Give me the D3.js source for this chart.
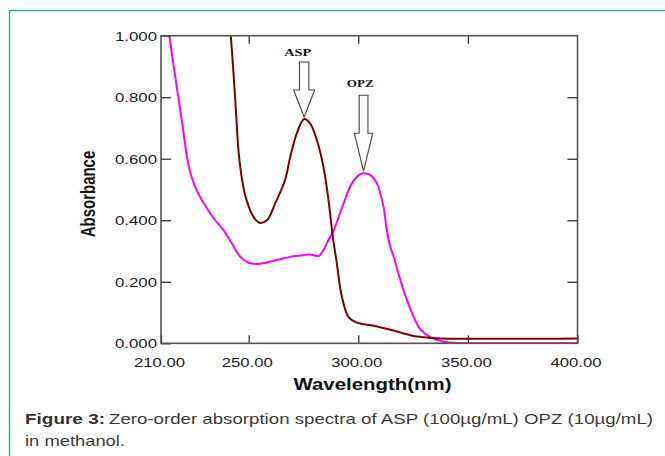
<!DOCTYPE html>
<html>
<head>
<meta charset="utf-8">
<script src="https://cdn.jsdelivr.net/npm/d3@7/dist/d3.min.js"></script>
<style>
  body { margin: 0; background: #fff; }
  text { font-family: "Liberation Sans", Arial, sans-serif; }
</style>
</head>
<body>
<div id="chart"></div>
<script>
// OPZ spectrum (magenta)
const opzWl  = [211, 213.8, 215.8, 217.9, 220, 222, 224.2, 227.5, 232.4, 234.7, 238.5, 242.3, 246.1, 249.9, 253.7, 256.7, 261.3, 265.9, 268.9, 275, 278, 281.9, 284.1, 286.4, 288.5, 293.3, 297.1, 300.9, 302.4, 305.5, 308.5, 311.5, 313, 314.6, 316.1, 319.2, 322.2, 325, 328.3, 332.9, 338.9, 345, 360, 400];
const opzAbs = [1.14, 1.0, 0.9, 0.8, 0.7, 0.6, 0.535, 0.48, 0.423, 0.4, 0.368, 0.325, 0.282, 0.262, 0.258, 0.26, 0.268, 0.276, 0.281, 0.286, 0.289, 0.284, 0.303, 0.336, 0.362, 0.455, 0.52, 0.55, 0.553, 0.547, 0.52, 0.444, 0.368, 0.314, 0.282, 0.206, 0.141, 0.09, 0.045, 0.02, 0.005, 0.001, 0, 0];

// ASP spectrum (maroon)
const aspWl  = [240.5, 241.8, 243.8, 245.3, 246.6, 248.1, 250.1, 252.3, 254.9, 258.3, 262.1, 266.6, 268.9, 272, 275.3, 278, 281.1, 284.1, 286.4, 288.5, 290.2, 292.5, 295.5, 299.4, 307, 314.6, 320.7, 325.2, 328.3, 337.4, 400];
const aspAbs = [1.08, 1.0, 0.8, 0.63, 0.55, 0.49, 0.443, 0.41, 0.392, 0.4, 0.455, 0.531, 0.604, 0.683, 0.729, 0.715, 0.661, 0.574, 0.466, 0.34, 0.26, 0.152, 0.086, 0.067, 0.057, 0.044, 0.032, 0.024, 0.021, 0.016, 0.016];

// peak annotations
const peakLabels = ["ASP", "OPZ"];
const peakWl     = [275.3, 302.4];
const peakAbs    = [0.729, 0.553];

const xTicks = [210, 250, 300, 350, 400];
const yTicks = [0, 0.2, 0.4, 0.6, 0.8, 1.0];

const W = 665, H = 456;
const pLeft = 161, pRight = 577.5, pTop = 35.7, pBottom = 343.3;

const svg = d3.select("#chart").append("svg")
  .attr("width", W).attr("height", H);

// teal frame around the figure
svg.append("rect")
  .attr("x", 9.5).attr("y", 10.5)
  .attr("width", 700).attr("height", 500)
  .attr("fill", "none").attr("stroke", "#1fb49e").attr("stroke-width", 1.5);

const x = d3.scaleLinear().domain([210, 400]).range([pLeft, pRight]);
const y = d3.scaleLinear().domain([0, 1]).range([pBottom, pTop]);

svg.append("clipPath").attr("id", "plot")
  .append("rect").attr("x", pLeft).attr("y", pTop)
  .attr("width", pRight - pLeft).attr("height", pBottom - pTop);

const line = d3.line()
  .x(d => x(d[0])).y(d => y(d[1]))
  .curve(d3.curveCatmullRom.alpha(0.5));

const series = [
  { wl: opzWl, abs: opzAbs, color: "#ff00ff" },
  { wl: aspWl, abs: aspAbs, color: "#7f0000" }
];
svg.append("g").attr("clip-path", "url(#plot)")
  .selectAll("path").data(series).enter()
  .append("path")
    .attr("d", s => line(d3.zip(s.wl, s.abs)))
    .attr("fill", "none")
    .attr("stroke", s => s.color)
    .attr("stroke-width", 2);

// axes, ticks point inward
const yAxis = svg.append("g").attr("transform", `translate(${pLeft},0)`)
  .call(d3.axisLeft(y).tickValues(yTicks).tickSizeInner(-10).tickSizeOuter(0)
        .tickPadding(4).tickFormat(d3.format(".3f")));
const xAxis = svg.append("g").attr("transform", `translate(0,${pBottom})`)
  .call(d3.axisBottom(x).tickValues(xTicks).tickSizeInner(-8).tickSizeOuter(0)
        .tickPadding(15).tickFormat(d3.format(".2f")));
svg.append("g").attr("transform", `translate(0,${pTop})`)
  .call(d3.axisTop(x).tickValues(xTicks.slice(1, -1)).tickSize(-8).tickFormat(""));
svg.append("g").attr("transform", `translate(${pRight},0)`)
  .call(d3.axisRight(y).tickValues(yTicks.slice(1, -1)).tickSize(-10).tickFormat(""));

svg.selectAll(".domain").remove();
svg.selectAll(".tick line").attr("stroke", "#333").attr("stroke-width", 1.3);

yAxis.selectAll("text").attr("font-size", 12).attr("fill", "#1a1a28")
  .attr("textLength", 42).attr("lengthAdjust", "spacingAndGlyphs")
  .attr("dy", "0.36em");
xAxis.selectAll("text").attr("font-size", 12).attr("fill", "#1a1a28")
  .attr("textLength", 51).attr("lengthAdjust", "spacingAndGlyphs")
  .attr("dx", -2);

// plot frame
svg.append("rect")
  .attr("x", pLeft).attr("y", pTop)
  .attr("width", pRight - pLeft).attr("height", pBottom - pTop)
  .attr("fill", "none").attr("stroke", "#555").attr("stroke-width", 1.6);

// axis titles
svg.append("text")
  .attr("x", 372.5).attr("y", 390)
  .attr("text-anchor", "middle")
  .attr("font-size", 16).attr("font-weight", "bold").attr("fill", "#111")
  .attr("textLength", 158).attr("lengthAdjust", "spacingAndGlyphs")
  .text("Wavelength(nm)");
svg.append("text")
  .attr("transform", "translate(95,194) scale(1.33,1) rotate(-90)")
  .attr("text-anchor", "middle")
  .attr("font-size", 15).attr("font-weight", "bold").attr("fill", "#111")
  .text("Absorbance");

// peak arrows: shaft top, head size per arrow
const shaftLen = [28, 38], headLen = [27, 38], headHalf = [10.5, 9.2], shaftHalf = [4.7, 4.4];
const labelGap = [6, 8], labelShift = [-6.5, -3.3];
peakLabels.forEach((lab, i) => {
  const tx = x(peakWl[i]), ty = y(peakAbs[i]) - 2;
  const hb = ty - headLen[i], st = hb - shaftLen[i];
  const p = d3.path();
  p.moveTo(tx, ty);
  p.lineTo(tx - headHalf[i], hb);
  p.lineTo(tx - shaftHalf[i], hb);
  p.lineTo(tx - shaftHalf[i], st);
  p.lineTo(tx + shaftHalf[i], st);
  p.lineTo(tx + shaftHalf[i], hb);
  p.lineTo(tx + headHalf[i], hb);
  p.closePath();
  svg.append("path").attr("d", p.toString())
    .attr("fill", "#fff").attr("stroke", "#444").attr("stroke-width", 1.1);
  svg.append("text")
    .attr("x", tx + labelShift[i]).attr("y", st - labelGap[i])
    .attr("text-anchor", "middle")
    .style("font-family", "'Liberation Serif', 'Times New Roman', serif")
    .attr("font-size", 11).attr("font-weight", "bold").attr("fill", "#111")
    .attr("textLength", 27).attr("lengthAdjust", "spacingAndGlyphs")
    .text(lab);
});

// caption
svg.append("text")
  .attr("x", 25).attr("y", 424)
  .attr("font-size", 15).attr("font-weight", "bold").attr("fill", "#333")
  .attr("textLength", 80).attr("lengthAdjust", "spacingAndGlyphs")
  .text("Figure 3:");
svg.append("text")
  .attr("x", 109).attr("y", 424)
  .attr("font-size", 15).attr("fill", "#3a3a3a")
  .attr("textLength", 544).attr("lengthAdjust", "spacingAndGlyphs")
  .text("Zero-order absorption spectra of ASP (100µg/mL) OPZ (10µg/mL)");
svg.append("text")
  .attr("x", 25).attr("y", 446)
  .attr("font-size", 15).attr("fill", "#3a3a3a")
  .attr("textLength", 100).attr("lengthAdjust", "spacingAndGlyphs")
  .text("in methanol.");
</script>
</body>
</html>
